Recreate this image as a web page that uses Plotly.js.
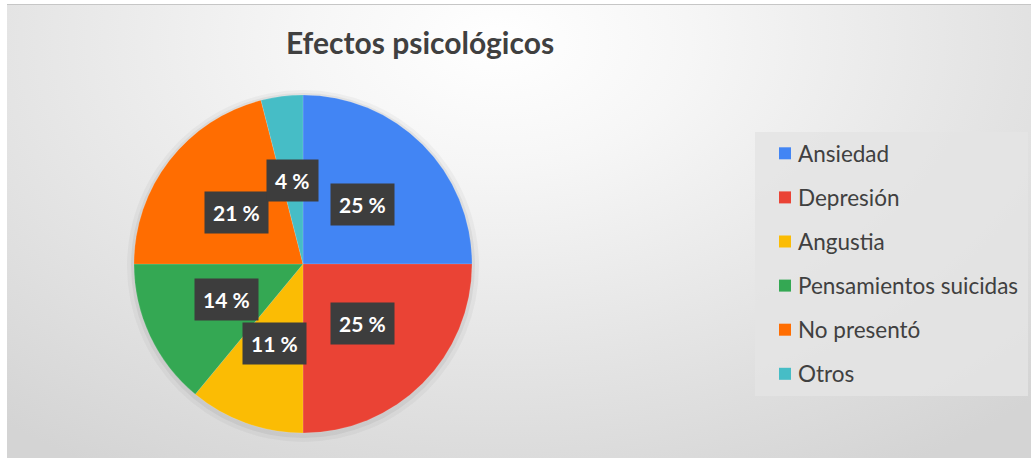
<!DOCTYPE html>
<html>
<head>
<meta charset="utf-8">
<script src="https://cdn.plot.ly/plotly-3.0.1.min.js"></script>
<style>
  html, body { margin: 0; padding: 0; background: #ffffff; }
  #wrap { position: relative; width: 1031px; height: 458px; overflow: hidden; }
  #bg {
    position: absolute; left: 7px; top: 4px; width: 1024px; height: 454px;
    border-top: 1px solid #c6c6c6;
    background: radial-gradient(ellipse 75% 110% at 48% 8%, #ffffff 0%, #f6f6f6 25%, #e6e6e6 60%, #d4d4d4 100%);
  }
  #chart { position: absolute; left: 0; top: 0; width: 1031px; height: 458px; }
</style>
</head>
<body>
<div id="wrap">
  <div id="bg"></div>
  <div id="chart"></div>
</div>
<script>
// ---- data ----
const categories = ["Ansiedad", "Depresión", "Angustia", "Pensamientos suicidas", "No presentó", "Otros"];
const values = [25, 25, 11, 14, 21, 4];
const colors = ["#4285F4", "#EA4335", "#FBBC04", "#34A853", "#FF6D01", "#46BDC6"];
const chartTitle = "Efectos psicológicos";

// ---- layout constants (pixels) ----
const W = 1031, H = 458;
const pieCx = 303, pieCy = 264, pieR = 169;
const px = v => v / W;
const py = v => 1 - v / H;

const domainX = [px(pieCx - pieR), px(pieCx + pieR)];
const domainY = [py(pieCy + pieR), py(pieCy - pieR)];

const pieTrace = {
  type: "pie",
  labels: categories,
  values: values,
  sort: false,
  direction: "clockwise",
  rotation: 0,
  marker: { colors: colors, line: { color: "rgba(255,255,255,0.25)", width: 0.5 } },
  textinfo: "none",
  hoverinfo: "label+percent",
  showlegend: false,
  domain: { x: domainX, y: domainY }
};

// data labels in dark boxes, placed at half radius along each slice's mid angle
const total = values.reduce((a, b) => a + b, 0);
const annotations = [];
let cum = 0;
values.forEach((v, i) => {
  const mid = (cum + v / 2) / total * 2 * Math.PI;
  cum += v;
  const lx = pieCx + 0.5 * pieR * Math.sin(mid);
  const ly = pieCy - 0.5 * pieR * Math.cos(mid);
  annotations.push({
    xref: "paper", yref: "paper",
    x: px(lx), y: py(ly),
    xanchor: "center", yanchor: "middle",
    text: Math.round(v / total * 100) + " %",
    showarrow: false,
    font: { family: "Lato, 'Open Sans', sans-serif", size: 21, color: "#ffffff", weight: "bold" },
    bgcolor: "#3d3d3d",
    borderpad: 8
  });
});

// manual legend (bigger spacing than native)
const legTop = 153.3, legStep = 44.1;
const shapes = [
  // pie soft shadow
  { type: "circle", xref: "paper", yref: "paper", layer: "below",
    x0: px(pieCx - pieR - 7), x1: px(pieCx + pieR + 7), y0: py(pieCy + pieR + 9), y1: py(pieCy - pieR - 5),
    fillcolor: "rgba(0,0,0,0.035)", line: { width: 0 } },
  { type: "circle", xref: "paper", yref: "paper", layer: "below",
    x0: px(pieCx - pieR - 3), x1: px(pieCx + pieR + 3), y0: py(pieCy + pieR + 5), y1: py(pieCy - pieR - 2),
    fillcolor: "rgba(0,0,0,0.05)", line: { width: 0 } },
  // legend box
  { type: "rect", xref: "paper", yref: "paper", layer: "below",
    x0: px(755), x1: px(1028), y0: py(396), y1: py(132),
    fillcolor: "rgba(228,228,228,0.85)", line: { width: 0 } }
];
categories.forEach((c, i) => {
  const yc = legTop + i * legStep;
  shapes.push({
    type: "rect", xref: "paper", yref: "paper",
    x0: px(779), x1: px(791), y0: py(yc + 6), y1: py(yc - 6),
    fillcolor: colors[i], line: { width: 0 }
  });
  annotations.push({
    xref: "paper", yref: "paper",
    x: px(796), y: py(yc),
    xanchor: "left", yanchor: "middle",
    text: c, showarrow: false,
    font: { family: "Lato, 'Open Sans', sans-serif", size: 22.5, color: "#404040" }
  });
});

const layout = {
  width: W, height: H,
  margin: { l: 0, r: 0, t: 0, b: 0 },
  paper_bgcolor: "rgba(0,0,0,0)",
  plot_bgcolor: "rgba(0,0,0,0)",
  title: {
    text: chartTitle,
    x: px(420), xanchor: "center",
    y: py(43), yanchor: "middle",
    font: { family: "Lato, 'Open Sans', sans-serif", size: 30, color: "#404040", weight: "bold" }
  },
  showlegend: false,
  shapes: shapes,
  annotations: annotations
};

Plotly.newPlot("chart", [pieTrace], layout, { displayModeBar: false, staticPlot: true });
</script>
</body>
</html>
